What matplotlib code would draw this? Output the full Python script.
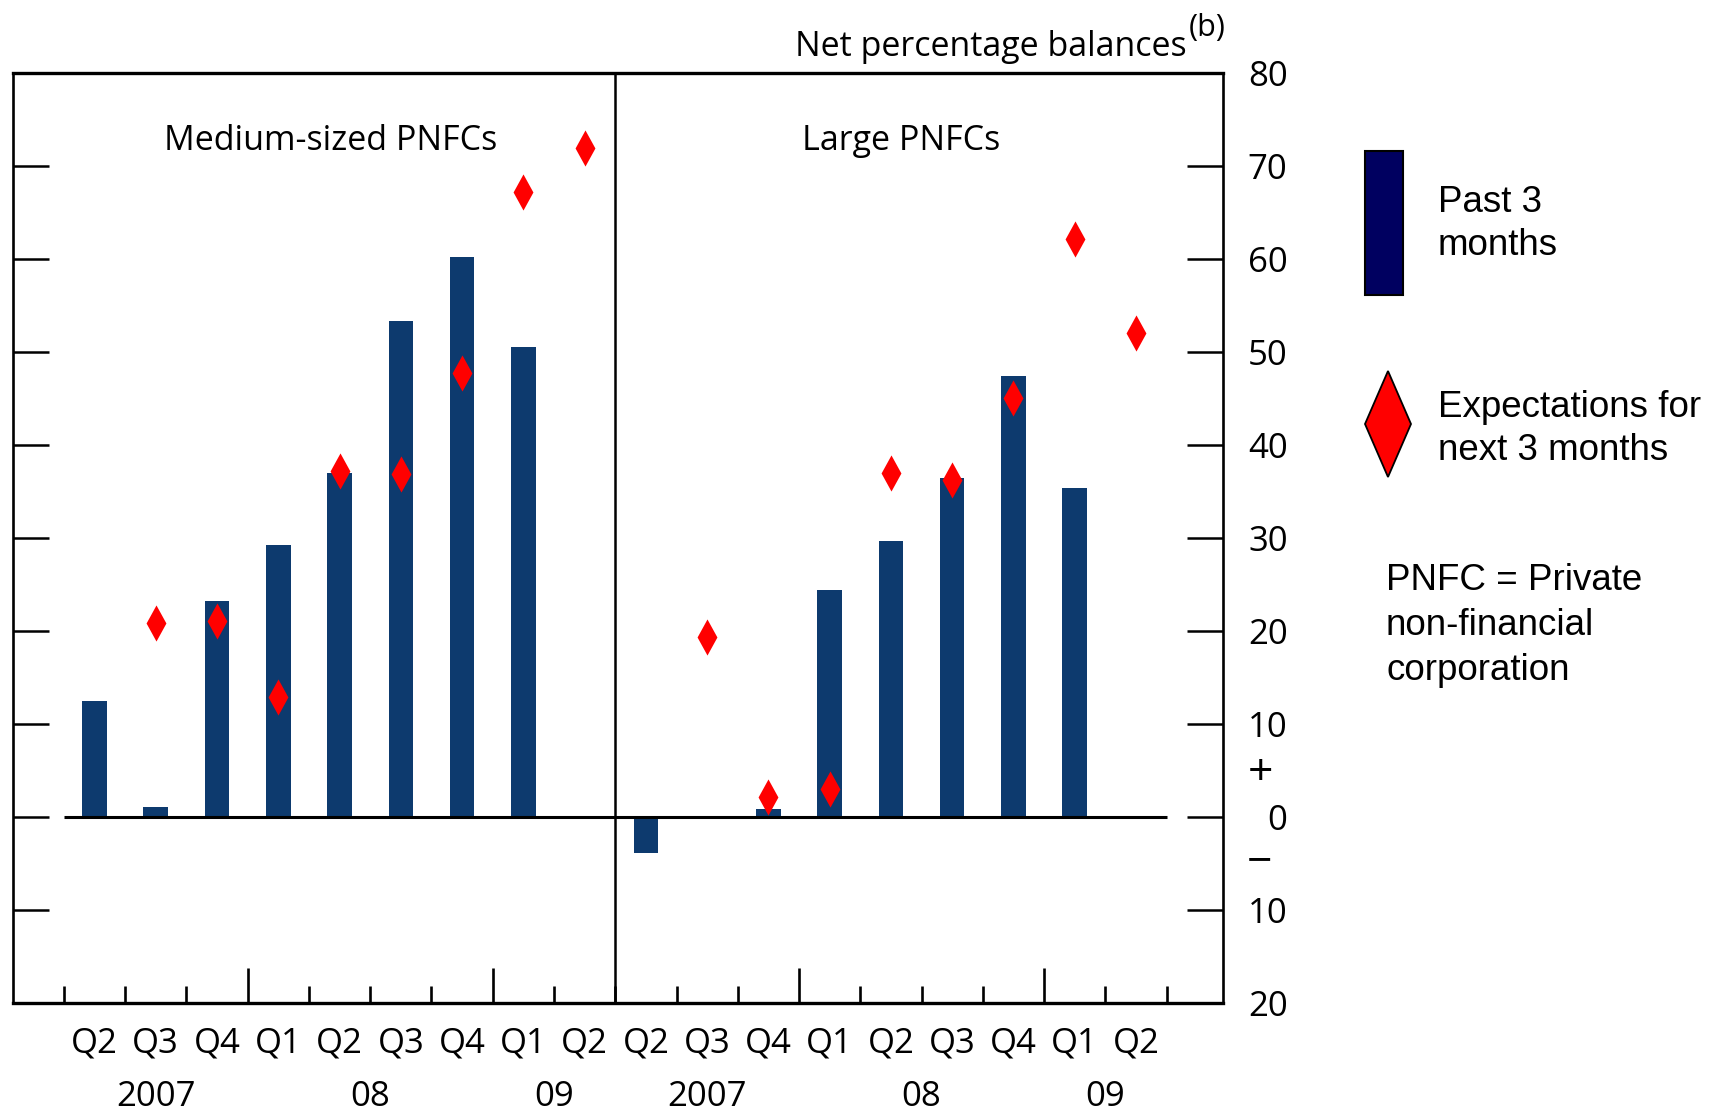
import numpy as np
import matplotlib
matplotlib.use("Agg")
import matplotlib.pyplot as plt
from matplotlib.patches import Rectangle, Polygon
import matplotlib.transforms as mtransforms

plt.rcParams['font.family'] = ['Open Sans', 'DejaVu Sans']

# ---------------- data ----------------
quarters = ['Q2', 'Q3', 'Q4', 'Q1', 'Q2', 'Q3', 'Q4', 'Q1', 'Q2']
year_labels = ['2007', '08', '09']
year_offsets = [1, 4.5, 7.5]          # position of year label within a panel (category units)
year_breaks = [2.5, 6.5]              # taller ticks at year boundaries within a panel

panel_titles = ['Medium-sized PNFCs', 'Large PNFCs']
nan = np.nan
medium_past = [12.5, 1.1, 23.2, 29.3, 37.0, 53.3, 60.2, 50.5, nan]
medium_expect = [nan, 20.9, 21.1, 12.9, 37.2, 36.9, 47.7, 67.2, 71.9]
large_past = [-3.9, nan, 0.9, 24.4, 29.7, 36.5, 47.4, 35.4, nan]
large_expect = [nan, 19.4, 2.2, 3.0, 37.0, 36.2, 45.1, 62.1, 52.0]

yticks = [-20, -10, 0, 10, 20, 30, 40, 50, 60, 70, 80]
ytick_labels = [str(abs(v)) for v in yticks]

bar_color = '#0d3a6e'
diamond_color = '#ff0000'

# ---------------- figure ----------------
W, H = 1711, 1113
fig = plt.figure(figsize=(W / 100, H / 100), dpi=100)

def fx(px):
    return px / W

def fy(py):
    return 1 - py / H

ax = fig.add_axes([fx(13), fy(1003), (1223 - 13) / W, (1003 - 73) / H])

n = len(quarters)
x_med = np.arange(n)
x_lrg = np.arange(n) + n

ax.bar(x_med, medium_past, width=0.4, color=bar_color, zorder=2)
ax.bar(x_lrg, large_past, width=0.4, color=bar_color, zorder=2)

diamond = [(-0.55, 0), (0, 1), (0.55, 0), (0, -1)]
ax.plot(x_med, medium_expect, linestyle='none', marker=diamond, markersize=26,
        color=diamond_color, markeredgewidth=0, zorder=4)
ax.plot(x_lrg, large_expect, linestyle='none', marker=diamond, markersize=26,
        color=diamond_color, markeredgewidth=0, zorder=4)

ax.set_xlim(-1.33, 2 * n + 0.42)
ax.set_ylim(-20, 80)

# zero line and divider
ax.hlines(0, -0.5, 2 * n - 0.5, color='black', lw=2.2, zorder=3)
ax.axvline(n - 0.5, color='black', lw=1.8, zorder=3)

# spines
for s in ['left', 'right']:
    ax.spines[s].set_linewidth(1.9)
for s in ['top', 'bottom']:
    ax.spines[s].set_linewidth(2.4)

# y ticks
ax.set_yticks(yticks)
ax.set_yticklabels(ytick_labels)
ax.tick_params(axis='y', which='both', direction='in', length=26, width=1.8,
               left=True, right=True, labelleft=False, labelright=True,
               labelsize=25, pad=46.5)
for lab in ax.get_yticklabels():
    lab.set_horizontalalignment('right')

# x ticks
minor_pos = [p - 0.5 for p in range(2 * n + 1)]
major_pos = year_breaks + [b + n for b in year_breaks]
minor_pos = [p for p in minor_pos if p not in major_pos]
ax.set_xticks(major_pos)
ax.set_xticks(minor_pos, minor=True)
ax.set_xticklabels([])
ax.tick_params(axis='x', which='major', direction='in', length=25, width=1.9)
ax.tick_params(axis='x', which='minor', direction='in', length=12, width=1.9)

# category labels below axis
blend = mtransforms.blended_transform_factory(ax.transData, fig.transFigure)
for offset in [0, n]:
    for i, q in enumerate(quarters):
        ax.text(i + offset, fy(1052), q, transform=blend, ha='center', va='baseline',
                fontsize=25)
    for xo, yl in zip(year_offsets, year_labels):
        ax.text(xo + offset, fy(1106), yl, transform=blend, ha='center', va='baseline',
                fontsize=25)

# panel titles
ax.text(3.85, 71.7, panel_titles[0], ha='center', va='baseline', fontsize=24.5)
ax.text(13.16, 71.7, panel_titles[1], ha='center', va='baseline', fontsize=24.5)

# + / - signs
blend_y = mtransforms.blended_transform_factory(fig.transFigure, ax.transData)
ax.text(fx(1260), 4.6, '+', transform=blend_y, ha='center', va='center', fontsize=32)
ax.text(fx(1260), -4.9, '\u2212', transform=blend_y, ha='center', va='center', fontsize=32)

# unit label
fig.text(fx(1187), fy(56), 'Net percentage balances', ha='right', va='baseline', fontsize=24.5)
fig.text(fx(1189), fy(36), '(b)', ha='left', va='baseline', fontsize=22)

# ---------------- legend ----------------
fig.add_artist(Rectangle((fx(1365), fy(295)), (1403 - 1365) / W, (295 - 151) / H,
                         transform=fig.transFigure, facecolor='#000060',
                         edgecolor='black', lw=1.5))
fig.add_artist(Polygon([(fx(1365), fy(424)), (fx(1388), fy(371)),
                        (fx(1411), fy(424)), (fx(1388), fy(477))],
                       closed=True, transform=fig.transFigure,
                       facecolor=diamond_color, edgecolor='black', lw=1.3))

leg_font = ['Liberation Sans', 'DejaVu Sans']
legend_lines = [
    (1438, 212, 'Past 3'),
    (1438, 255, 'months'),
    (1438, 417, 'Expectations for'),
    (1438, 460, 'next 3 months'),
    (1386, 590, 'PNFC = Private'),
    (1386, 635, 'non-financial'),
    (1386, 680, 'corporation'),
]
for x, y, t in legend_lines:
    fig.text(fx(x), fy(y), t, ha='left', va='baseline', fontsize=26.5, family=leg_font)

fig.savefig('out.png', dpi=100)
